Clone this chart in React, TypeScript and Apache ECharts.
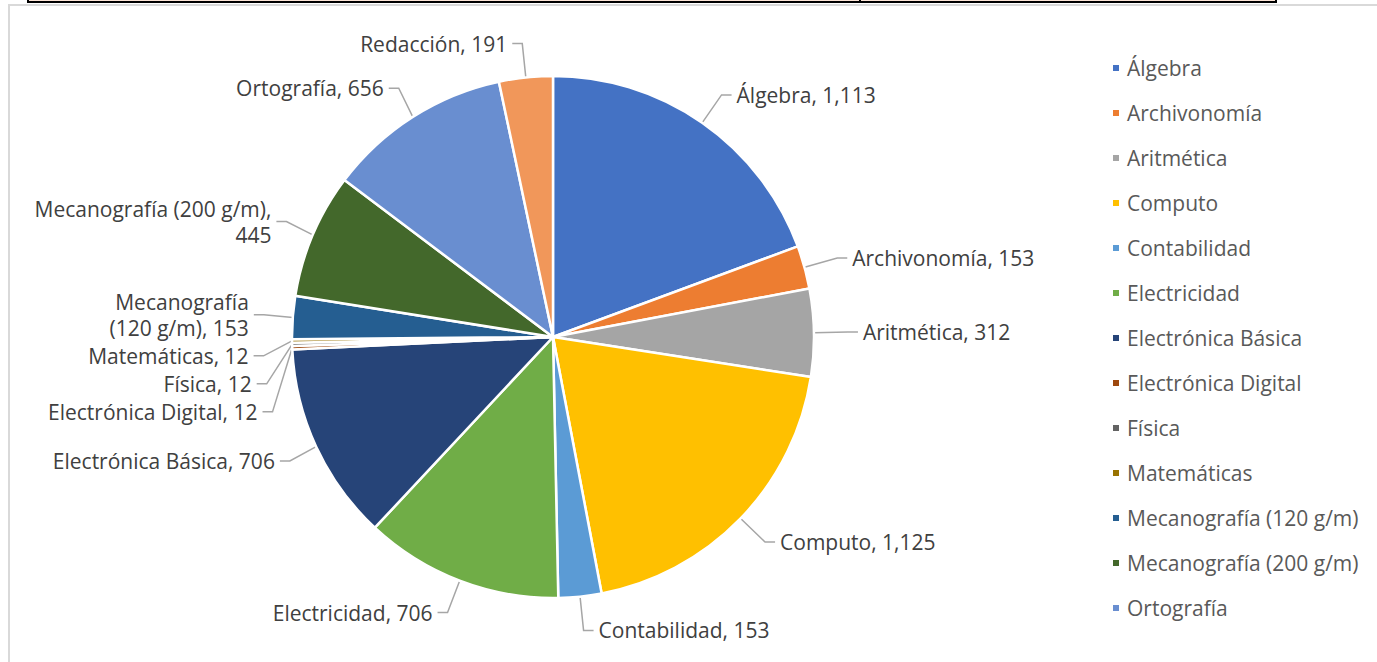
import React, { useEffect, useRef } from "react";
import * as echarts from "echarts";

const categories = [
  "Álgebra",
  "Archivonomía",
  "Aritmética",
  "Computo",
  "Contabilidad",
  "Electricidad",
  "Electrónica Básica",
  "Electrónica Digital",
  "Física",
  "Matemáticas",
  "Mecanografía (120 g/m)",
  "Mecanografía (200 g/m)",
  "Ortografía",
  "Redacción",
];
const values = [1113, 153, 312, 1125, 153, 706, 706, 12, 12, 12, 153, 445, 656, 191];
const colors = [
  "#4472C4", "#ED7D31", "#A5A5A5", "#FFC000", "#5B9BD5", "#70AD47", "#264478",
  "#9E480E", "#636363", "#997300", "#255E91", "#43682B", "#698ED0", "#F1975A",
];
const labelText: Record<string, string> = {
  "Mecanografía (120 g/m)": "Mecanografía\n(120 g/m)",
  "Mecanografía (200 g/m)": "Mecanografía (200 g/m),\n",
};
const legendNames = categories.slice(0, 13);

const FONT = "'Open Sans', 'Noto Sans', sans-serif";

export default function App() {
  const ref = useRef<HTMLDivElement>(null);
  useEffect(() => {
    if (!ref.current) return;
    const chart = echarts.init(ref.current, undefined, { renderer: "svg" });
    const fmt = (v: number) => v.toLocaleString("en-US");
    chart.setOption({
      animation: false,
      backgroundColor: "#ffffff",
      color: colors,
      textStyle: { fontFamily: FONT },
      graphic: [
        { type: "line", shape: { x1: 8, y1: 5, x2: 1377, y2: 5 }, style: { stroke: "#d9d9d9", lineWidth: 2 } },
        { type: "line", shape: { x1: 9, y1: 5, x2: 9, y2: 662 }, style: { stroke: "#d9d9d9", lineWidth: 2 } },
        { type: "rect", shape: { x: 28, y: -4, width: 1248, height: 6 }, style: { fill: "#FCE4D6", stroke: "#000", lineWidth: 2 } },
        { type: "line", shape: { x1: 860, y1: 0, x2: 860, y2: 3 }, style: { stroke: "#000", lineWidth: 2 } },
      ],
      legend: {
        data: legendNames,
        orient: "vertical",
        left: 1106,
        top: 50,
        itemWidth: 8,
        itemHeight: 8,
        itemGap: 19,
        icon: "rect",
        textStyle: { fontSize: 21, color: "#595959", lineHeight: 26, fontFamily: FONT, padding: [0, 0, 0, 2] },
      },
      series: [
        {
          type: "pie",
          center: [553, 337],
          radius: [0, 261],
          startAngle: 90,
          clockwise: true,
          data: categories.map((n, i) => ({ name: n, value: values[i] })),
          itemStyle: { borderColor: "#ffffff", borderWidth: 2.5 },
          avoidLabelOverlap: true,
          label: {
            show: true,
            fontSize: 21,
            color: "#404040",
            fontFamily: FONT,
            lineHeight: 26,
            formatter: (p: any) => {
              const t = labelText[p.name];
              if (t === undefined) return `${p.name}, ${fmt(p.value)}`;
              if (t.endsWith("\n")) return t + fmt(p.value);
              return `${t}, ${fmt(p.value)}`;
            },
          },
          labelLine: {
            show: true,
            length: 34,
            length2: 10,
            lineStyle: { color: "#a6a6a6", width: 1.5 },
          },
        },
      ],
    });
    return () => chart.dispose();
  }, []);
  return (
    <div
      ref={ref}
      style={{ position: "fixed", left: 0, top: 0, width: 1377, height: 662 }}
    />
  );
}
